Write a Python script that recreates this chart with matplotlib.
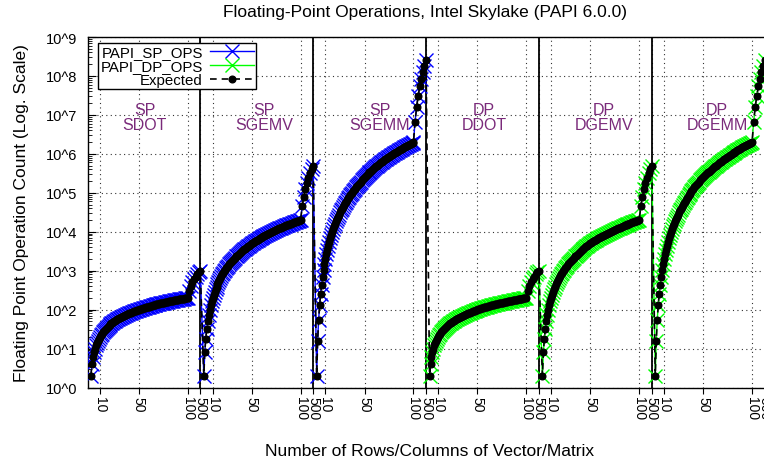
import matplotlib
matplotlib.use("Agg")
import matplotlib.pyplot as plt
from matplotlib.lines import Line2D
from matplotlib.ticker import LogLocator, NullFormatter

plt.rcParams['font.family'] = ['Liberation Sans', 'DejaVu Sans']

# tamanhos testados (n) em cada kernel: 1..100 e depois passos de 50 ate 500
sizes = list(range(1, 101)) + [150, 200, 250, 300, 350, 400, 450, 500]

# contagens (iguais para SP e DP)
dot_flops = [
    2, 4, 6, 8, 10, 12, 14, 16, 18, 20, 22, 24, 26, 28, 30, 32, 34, 36, 38, 40,
    42, 44, 46, 48, 50, 52, 54, 56, 58, 60, 62, 64, 66, 68, 70, 72, 74, 76, 78, 80,
    82, 84, 86, 88, 90, 92, 94, 96, 98, 100, 102, 104, 106, 108, 110, 112, 114, 116, 118, 120,
    122, 124, 126, 128, 130, 132, 134, 136, 138, 140, 142, 144, 146, 148, 150, 152, 154, 156, 158, 160,
    162, 164, 166, 168, 170, 172, 174, 176, 178, 180, 182, 184, 186, 188, 190, 192, 194, 196, 198, 200,
    300, 400, 500, 600, 700, 800, 900, 1000,
]
gemv_flops = [
    2, 8, 18, 32, 50, 72, 98, 128, 162, 200, 242, 288, 338, 392, 450, 512, 578, 648, 722, 800,
    882, 968, 1058, 1152, 1250, 1352, 1458, 1568, 1682, 1800, 1922, 2048, 2178, 2312, 2450, 2592, 2738, 2888, 3042, 3200,
    3362, 3528, 3698, 3872, 4050, 4232, 4418, 4608, 4802, 5000, 5202, 5408, 5618, 5832, 6050, 6272, 6498, 6728, 6962, 7200,
    7442, 7688, 7938, 8192, 8450, 8712, 8978, 9248, 9522, 9800, 10082, 10368, 10658, 10952, 11250, 11552, 11858, 12168, 12482, 12800,
    13122, 13448, 13778, 14112, 14450, 14792, 15138, 15488, 15842, 16200, 16562, 16928, 17298, 17672, 18050, 18432, 18818, 19208, 19602, 20000,
    45000, 80000, 125000, 180000, 245000, 320000, 405000, 500000,
]
gemm_flops = [
    2, 16, 54, 128, 250, 432, 686, 1024, 1458, 2000, 2662, 3456, 4394, 5488, 6750, 8192, 9826, 11664, 13718, 16000,
    18522, 21296, 24334, 27648, 31250, 35152, 39366, 43904, 48778, 54000, 59582, 65536, 71874, 78608, 85750, 93312, 101306, 109744, 118638, 128000,
    137842, 148176, 159014, 170368, 182250, 194672, 207646, 221184, 235298, 250000, 265302, 281216, 297754, 314928, 332750, 351232, 370386, 390224, 410758, 432000,
    453962, 476656, 500094, 524288, 549250, 574992, 601526, 628864, 657018, 686000, 715822, 746496, 778034, 810448, 843750, 877952, 913066, 949104, 986078, 1024000,
    1062882, 1102736, 1143574, 1185408, 1228250, 1272112, 1317006, 1362944, 1409938, 1458000, 1507142, 1557376, 1608714, 1661168, 1714750, 1769472, 1825346, 1882384, 1940598, 2000000,
    6750000, 16000000, 31250000, 54000000, 85750000, 128000000, 182250000, 250000000,
]

kernels = ["SP\nSDOT", "SP\nSGEMV", "SP\nSGEMM", "DP\nDDOT", "DP\nDGEMV", "DP\nDGEMM"]
sp_ops = dot_flops + gemv_flops + gemm_flops
dp_ops = dot_flops + gemv_flops + gemm_flops
expected = dot_flops + gemv_flops + gemm_flops + dot_flops + gemv_flops + gemm_flops
tick_sizes = [10, 50, 100, 500]

# posicao no eixo x: linear ate 100, comprimido de 100 a 500
PERIOD = 115.4
TAIL = 12.8


def xpos(n, seg):
    if n <= 100:
        u = n
    else:
        u = 100 + (n - 100) * TAIL / 400.0
    return seg * PERIOD + u


sp_x = [xpos(n, k) for k in range(3) for n in sizes]
dp_x = [xpos(n, k) for k in range(3, 6) for n in sizes]
exp_x = [xpos(n, k) for k in range(6) for n in sizes]

fig = plt.figure(figsize=(7.64, 4.64), dpi=100)
ax = fig.add_axes([88 / 764, 1 - 388.5 / 464, 686.6 / 764, 350.5 / 464])

ax.plot(sp_x, sp_ops, color='#0000ff', lw=1.0, marker='x', ms=10.5, mew=1.0, zorder=3)
ax.plot(dp_x, dp_ops, color='#00ff00', lw=1.0, marker='x', ms=10.5, mew=1.0, zorder=3)
ax.plot(exp_x, expected, color='black', lw=1.2, ls=(0, (4, 3)), marker='o', ms=4.8, zorder=4)

# linhas separando os kernels
for k in range(6):
    ax.axvline(xpos(500, k), color='black', lw=1.3, zorder=2)

label_x = [56.2, 177.9, 296.5, 402.9, 525.6, 641.1]
for cx, lab in zip(label_x, kernels):
    ax.text(cx, 10 ** 6.95, lab, ha='center', va='center', color='#7a2a7a',
            fontsize=11.5, linespacing=1.0, zorder=5)

ax.set_yscale('log')
ax.set_ylim(1, 1e9)
ax.set_xlim(-2, 700)

ax.set_yticks([10 ** i for i in range(10)])
ax.set_yticklabels(["10^%d" % i for i in range(10)], fontsize=10.5)
ax.yaxis.set_minor_locator(LogLocator(base=10, subs=range(2, 10), numticks=20))
ax.yaxis.set_minor_formatter(NullFormatter())
ax.tick_params(axis='y', which='major', direction='in', length=6, width=0.8, pad=8)
ax.tick_params(axis='y', which='minor', direction='in', length=3, width=0.6)

xt = [xpos(t, k) for k in range(6) for t in tick_sizes]
ax.set_xticks(xt)
ax.set_xticklabels([str(t) for k in range(6) for t in tick_sizes], rotation=-90, fontsize=10)
ax.tick_params(axis='x', direction='out', length=4, width=0.8, pad=2)
for lbl in ax.get_xticklabels():
    lbl.set_va('top')
    lbl.set_ha('center')

ax.grid(True, which='major', color='0.2', ls=(0, (1, 3)), lw=0.8)
ax.spines['right'].set_visible(False)
for s in ['left', 'top', 'bottom']:
    ax.spines[s].set_linewidth(1.0)

handles = [
    Line2D([], [], color='#0000ff', lw=1.0, marker='x', ms=10.5, mew=1.0),
    Line2D([], [], color='#00ff00', lw=1.0, marker='x', ms=10.5, mew=1.0),
    Line2D([], [], color='black', lw=1.2, ls=(0, (4, 3)), marker='o', ms=4.8),
]
leg = ax.legend(handles, ['PAPI_SP_OPS', 'PAPI_DP_OPS', 'Expected'], markerfirst=False,
                loc='upper left', bbox_to_anchor=(0.015, 0.983), fontsize=10.8,
                handlelength=2.9, handletextpad=0.5, labelspacing=0.0, borderpad=0.15,
                borderaxespad=0, fancybox=False, framealpha=1, edgecolor='black')
leg.get_frame().set_linewidth(1.0)
leg.set_zorder(10)

fig.text(425 / 764, 1 - 12.5 / 464, 'Floating-Point Operations, Intel Skylake (PAPI 6.0.0)',
         ha='center', va='center', fontsize=12.5)
fig.text(430 / 764, 1 - 452 / 464, 'Number of Rows/Columns of Vector/Matrix',
         ha='center', va='center', fontsize=12.5)
fig.text(22 / 764, 1 - 213 / 464, 'Floating Point Operation Count (Log. Scale)',
         ha='center', va='center', rotation=90, fontsize=12.5)

fig.savefig('out.png', dpi=100)
